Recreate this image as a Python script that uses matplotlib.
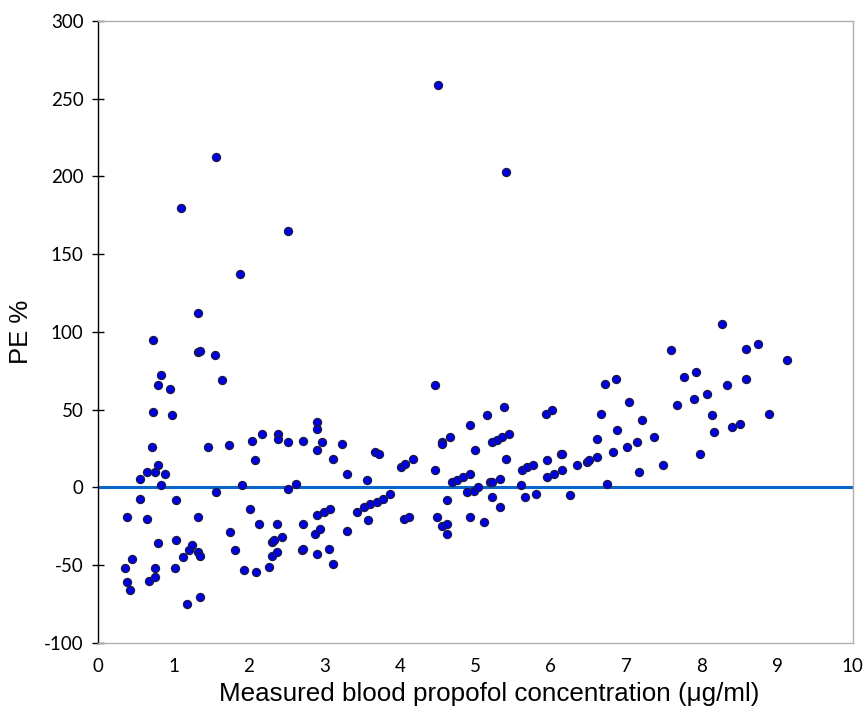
import matplotlib.pyplot as plt

plt.rcParams['axes.unicode_minus'] = False

# measured concentration (ug/ml) and prediction error (%)
conc = [0.36, 0.38, 0.38, 0.42, 0.45, 0.56, 0.56, 0.65, 0.65, 0.67,
        0.71, 0.73, 0.73, 0.76, 0.76, 0.76, 0.80, 0.80, 0.80, 0.84,
        0.84, 0.89, 0.95, 0.98, 1.02, 1.04, 1.04, 1.10, 1.13, 1.18,
        1.20, 1.24, 1.33, 1.33, 1.35, 1.33, 1.33, 1.35, 1.35, 1.46,
        1.55, 1.57, 1.57, 1.64, 1.73, 1.75, 1.82, 1.88, 1.91, 1.93,
        2.02, 2.04, 2.08, 2.10, 2.13, 2.17, 2.26, 2.30, 2.33, 2.30,
        2.37, 2.37, 2.39, 2.39, 2.44, 2.52, 2.52, 2.52, 2.63, 2.70,
        2.72, 2.72, 2.72, 2.88, 2.90, 2.90, 2.90, 2.90, 2.90, 2.94,
        2.97, 2.99, 3.06, 3.08, 3.12, 3.12, 3.23, 3.30, 3.30, 3.43,
        3.52, 3.56, 3.58, 3.61, 3.67, 3.70, 3.72, 3.78, 3.87, 4.01,
        4.05, 4.07, 4.12, 4.18, 4.47, 4.47, 4.49, 4.51, 4.56, 4.56,
        4.56, 4.62, 4.62, 4.62, 4.67, 4.69, 4.76, 4.84, 4.89, 4.93,
        4.93, 4.93, 4.98, 5.00, 5.04, 5.12, 5.15, 5.20, 5.22, 5.22,
        5.22, 5.29, 5.33, 5.33, 5.35, 5.38, 5.40, 5.40, 5.44, 5.60,
        5.62, 5.66, 5.68, 5.77, 5.81, 5.93, 5.95, 5.95, 6.02, 6.04,
        6.13, 6.15, 6.15, 6.26, 6.35, 6.48, 6.50, 6.61, 6.61, 6.66,
        6.72, 6.75, 6.83, 6.86, 6.88, 7.01, 7.03, 7.14, 7.17, 7.21,
        7.37, 7.48, 7.59, 7.67, 7.76, 7.90, 7.92, 7.98, 8.07, 8.14,
        8.16, 8.27, 8.34, 8.40, 8.51, 8.58, 8.58, 8.74, 8.89, 9.13]
pe = [-52, -19, -61, -66, -46, 5.6, -7.3, 9.9, -20, -60,
      26, 94.6, 48.5, 9.9, -52, -57.7, 65.6, 14.2, -36, 72,
      1.3, 8.8, 63.5, 46.3, -52, -8.4, -34, 179.5, -45, -75,
      -40.5, -37, 112, 87, 88, -19, -41.6, -43.8, -70.6, 26,
      85, 212.6, -3, 69, 27, -28.7, -40.5, 137.5, 1.3, -53,
      -13.7, 30, 17.4, -54.5, -23.4, 34.5, -51, -35, -34, -43.8,
      -23.4, -41.6, 34.5, 31.3, -32, 165, 29, -1, 2.4, -40.5,
      30, -23.4, -39.5, -29.8, 42, 37.8, 23.8, -18, -42.7, -26.6,
      29, -15.9, -39.5, -13.7, 18.4, -49, 28, 8.8, -27.7, -15.9,
      -12.7, 4.5, -21, -10.5, 22.7, -9.5, 21.7, -7.3, -4, 13,
      -20, 15.2, -19, 18.4, 65.6, 11, -19, 259, 29, 28,
      -24.5, -23.4, -29.8, -8.4, 32.4, 3.4, 4.5, 6.6, -3, 39.9,
      8.8, -19, -2, 23.8, 0.2, -22.3, 46.3, 3.4, 3.4, 29,
      -6.2, 30.2, 5.6, -12.7, 32.4, 51.7, 18.4, 203, 34.5, 1.3,
      11, -6.2, 13, 14.2, -4, 47.4, 17.4, 6.6, 49.5, 8.8,
      21.7, 21.7, 11, -5.1, 14.2, 16.3, 17.4, 19.5, 31.3, 47.4,
      66.7, 2.4, 22.7, 70, 36.7, 25.9, 54.9, 29, 9.9, 43.1,
      32.4, 14.2, 88.2, 52.8, 71, 57, 74.2, 21.7, 60.3, 46.3,
      35.6, 105.3, 65.6, 38.8, 41, 70, 89.3, 92.5, 47.4, 81.7]

fig = plt.figure(figsize=(8.67, 7.18), dpi=100)
ax = fig.add_axes([0.113, 0.1045, 0.8705, 0.8665])

ax.axhline(0, color='#0a66c8', lw=2.2, zorder=2)
ax.scatter(conc, pe, s=34, color='#0000e6', edgecolor='#1c1c40', linewidth=0.9, zorder=3)

ax.set_xlim(0, 10)
ax.set_ylim(-100, 300)
ax.set_xticks(range(0, 11))
ax.set_yticks(range(-100, 301, 50))

for side in ['top', 'right', 'bottom']:
    ax.spines[side].set_color('#b0b0b0')
    ax.spines[side].set_linewidth(1.0)
ax.spines['left'].set_color('black')
ax.spines['left'].set_linewidth(1.0)

ax.tick_params(axis='y', direction='inout', length=9, width=1.0, labelsize=13.5, pad=6)
ax.tick_params(axis='x', length=0, labelsize=13.5, pad=11)
for lab in ax.get_xticklabels() + ax.get_yticklabels():
    lab.set_family('Lato')

ax.set_xlabel('Measured blood propofol concentration (\u03bcg/ml)', fontsize=18.7,
              family='Liberation Sans')
ax.xaxis.set_label_coords(0.518, -0.063)
ax.set_ylabel('PE %', fontsize=18.5, family='Liberation Sans', labelpad=8)

fig.savefig('out.png', dpi=100)
